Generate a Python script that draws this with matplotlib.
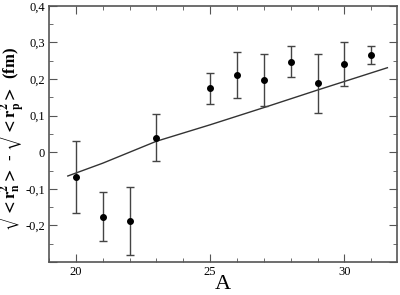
import matplotlib
matplotlib.use("Agg")
import matplotlib.pyplot as plt
from matplotlib.ticker import MultipleLocator, FuncFormatter

A = [20, 21, 22, 23, 25, 26, 27, 28, 29, 30, 31]
dr = [-0.068, -0.177, -0.187, 0.040, 0.175, 0.210, 0.198, 0.248, 0.188, 0.242, 0.266]
err = [0.099, 0.067, 0.093, 0.065, 0.042, 0.063, 0.071, 0.043, 0.081, 0.060, 0.025]

line_A = [19.7, 21, 23, 25, 27, 29, 31.6]
line_dr = [-0.065, -0.030, 0.030, 0.075, 0.122, 0.170, 0.231]

plt.rcParams['font.family'] = ['Liberation Serif', 'DejaVu Serif']
plt.rcParams['mathtext.fontset'] = 'stix'

fig = plt.figure(figsize=(4.0, 2.95), dpi=100)
ax = fig.add_axes([0.1225, 0.112, 0.8695, 0.868])

ax.plot(line_A, line_dr, color='#333333', lw=1.0)
ax.errorbar(A, dr, yerr=err, fmt='o', color='black', ecolor='#444444',
            markersize=4, capsize=3, elinewidth=1.0, capthick=1.0)

ax.set_xlim(19, 31.95)
ax.set_ylim(-0.3, 0.4)
ax.xaxis.set_major_locator(MultipleLocator(5))
ax.xaxis.set_minor_locator(MultipleLocator(1))
ax.yaxis.set_major_locator(MultipleLocator(0.1))
ax.yaxis.set_minor_locator(MultipleLocator(0.05))

def fmt(v, pos):
    if abs(v) < 1e-9:
        return '0'
    if v < -0.25:
        return ''
    s = '%.1f' % v
    return s.replace('.', ',')

ax.yaxis.set_major_formatter(FuncFormatter(fmt))
ax.tick_params(which='both', direction='in', top=True, right=True,
               labelsize=9, color='#555555', pad=3)
ax.tick_params(which='major', length=6)
ax.tick_params(which='minor', length=3)
for s in ax.spines.values():
    s.set_color('#555555')
    s.set_linewidth(1.2)

ax.set_xlabel('A', fontsize=16, labelpad=-2)
ax.set_ylabel(r'$\mathbf{\sqrt{{<}r_n^2{>}}}$ - $\mathbf{\sqrt{{<}r_p^2{>}}}$ (fm)',
              fontsize=12, fontweight='bold')
ax.yaxis.set_label_coords(-0.067, 0.48)

fig.savefig('out.png', dpi=100)
